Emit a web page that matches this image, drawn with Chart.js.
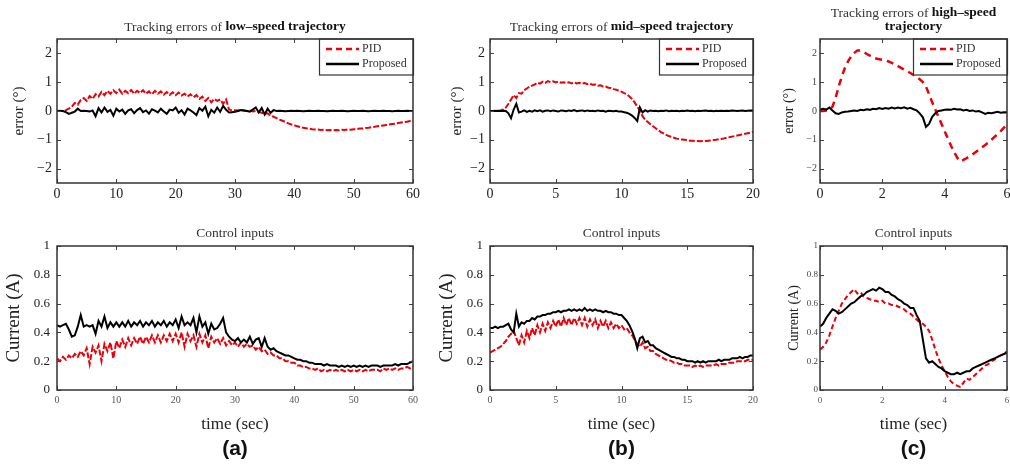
<!DOCTYPE html>
<html><head><meta charset="utf-8">
<script src="https://cdn.jsdelivr.net/npm/chart.js@4.4.1/dist/chart.umd.min.js"></script>
<style>
html,body{margin:0;padding:0;background:#fff;width:1010px;height:464px;overflow:hidden;}
canvas{position:absolute;}
</style></head><body>
<canvas id="a1"></canvas><canvas id="b1"></canvas><canvas id="c1"></canvas>
<canvas id="a2"></canvas><canvas id="b2"></canvas><canvas id="c2"></canvas>
<script>
// ---------- data ----------
const aTime = [0,0.5,1,1.5,2,2.5,3,3.5,4,4.5,5,5.5,6,6.5,7,7.5,8,8.5,9,9.5,10,10.5,11,11.5,12,12.5,13,13.5,14,14.5,15,15.5,16,16.5,17,17.5,18,18.5,19,19.5,20,20.5,21,21.5,22,22.5,23,23.5,24,24.5,25,25.5,26,26.5,27,27.5,28,28.5,29,29.5,30,30.5,31,31.5,32,32.5,33,33.5,34,34.5,35,35.5,36,36.5,37,37.5,38,38.5,39,39.5,40,40.5,41,41.5,42,42.5,43,43.5,44,44.5,45,45.5,46,46.5,47,47.5,48,48.5,49,49.5,50,50.5,51,51.5,52,52.5,53,53.5,54,54.5,55,55.5,56,56.5,57,57.5,58,58.5,59,59.5,60];
const aPidErr = [0,0.01,0,0.03,0.08,0.15,0.28,0.22,0.38,0.45,
 0.35,0.52,0.42,0.58,0.5,0.66,0.55,0.7,0.6,0.72,
 0.62,0.74,0.6,0.7,0.62,0.73,0.6,0.7,0.62,0.72,
 0.6,0.68,0.58,0.7,0.6,0.68,0.57,0.66,0.56,0.65,
 0.55,0.64,0.54,0.6,0.5,0.58,0.48,0.55,0.42,0.5,
 0.35,0.45,0.3,0.42,0.35,0.4,0.25,0.4,0.05,0.02,
 0.03,0.02,0.03,0.02,0,0.02,-0.02,0,-0.04,-0.06,
 -0.1,-0.08,-0.16,-0.2,-0.25,-0.3,-0.34,-0.38,-0.43,-0.47,
 -0.5,-0.53,-0.56,-0.58,-0.6,-0.61,-0.63,-0.64,-0.64,-0.66,
 -0.65,-0.67,-0.66,-0.67,-0.66,-0.67,-0.65,-0.66,-0.64,-0.65,
 -0.63,-0.63,-0.61,-0.61,-0.59,-0.58,-0.56,-0.55,-0.53,-0.52,
 -0.5,-0.49,-0.47,-0.45,-0.44,-0.42,-0.4,-0.39,-0.37,-0.35,
 -0.33];
const aPropErr = [0,0,0,-0.04,-0.1,-0.06,-0.02,0.08,0,0.01,
 0,-0.02,0.02,-0.18,0.1,-0.05,0.12,-0.03,0.04,-0.16,
 0.08,-0.02,0.05,-0.1,0.02,0.06,-0.08,0.03,0.1,-0.04,
 0.02,-0.09,0.06,0.01,-0.05,0.08,-0.02,-0.1,0.05,0.02,
 0.12,-0.06,0.03,-0.12,0.08,0.02,-0.05,-0.14,0.1,0.01,
 0.15,-0.18,0.04,-0.06,0.12,-0.03,0.18,0.04,-0.05,-0.04,
 -0.03,0,0.03,0.02,0,-0.02,0.05,0.12,-0.05,0.1,
 -0.12,0.08,-0.06,0.03,0,0.01,0,-0.01,0,0.01,
 0,0.01,0,-0.01,0,0.01,0,0,0.01,0,
 0,-0.01,0,0.01,0,0,0.01,0,-0.01,0,
 0.01,0,0,0.01,0,-0.01,0,0.01,0,0,
 0.01,0,0,-0.01,0,0.01,0,0,0.01,0,
 0];
const aPropCur = [0.45,0.44,0.45,0.46,0.42,0.37,0.38,0.44,0.52,0.44,
 0.45,0.44,0.45,0.39,0.48,0.44,0.51,0.43,0.47,0.44,
 0.47,0.44,0.47,0.44,0.48,0.44,0.47,0.45,0.48,0.44,
 0.47,0.45,0.48,0.44,0.47,0.45,0.48,0.44,0.47,0.45,
 0.49,0.43,0.51,0.45,0.47,0.45,0.5,0.4,0.51,0.44,
 0.47,0.39,0.46,0.42,0.43,0.46,0.5,0.4,0.37,0.35,
 0.34,0.36,0.33,0.35,0.33,0.37,0.32,0.35,0.36,0.3,
 0.36,0.3,0.28,0.29,0.27,0.26,0.25,0.24,0.24,0.23,
 0.22,0.21,0.21,0.2,0.2,0.19,0.19,0.18,0.18,0.18,
 0.17,0.18,0.17,0.17,0.17,0.16,0.17,0.16,0.17,0.16,
 0.17,0.16,0.17,0.16,0.17,0.16,0.17,0.17,0.17,0.16,
 0.17,0.17,0.17,0.17,0.18,0.17,0.18,0.18,0.18,0.19,
 0.2];
const aPidCur = [0.22,0.2,0.23,0.21,0.24,0.22,0.25,0.23,0.27,0.24,
 0.29,0.18,0.3,0.26,0.31,0.2,0.32,0.27,0.33,0.22,
 0.34,0.29,0.35,0.3,0.36,0.31,0.36,0.32,0.37,0.32,
 0.37,0.33,0.38,0.33,0.38,0.33,0.38,0.34,0.39,0.34,
 0.39,0.33,0.4,0.3,0.39,0.34,0.38,0.3,0.39,0.33,
 0.38,0.29,0.37,0.33,0.36,0.32,0.36,0.31,0.34,0.31,
 0.33,0.3,0.33,0.3,0.32,0.3,0.31,0.28,0.3,0.27,
 0.28,0.25,0.26,0.24,0.24,0.22,0.22,0.2,0.2,0.19,
 0.19,0.17,0.17,0.16,0.16,0.15,0.15,0.14,0.15,0.13,
 0.14,0.13,0.14,0.13,0.14,0.13,0.14,0.13,0.14,0.13,
 0.14,0.13,0.14,0.13,0.14,0.13,0.14,0.14,0.14,0.13,
 0.15,0.14,0.15,0.14,0.15,0.14,0.15,0.15,0.16,0.15,
 0.16];

const bTime = [0,0.2,0.4,0.6,0.8,1,1.2,1.4,1.6,1.8,2,2.2,2.4,2.6,2.8,3,3.2,3.4,3.6,3.8,4,4.2,4.4,4.6,4.8,5,5.2,5.4,5.6,5.8,6,6.2,6.4,6.6,6.8,7,7.2,7.4,7.6,7.8,8,8.2,8.4,8.6,8.8,9,9.2,9.4,9.6,9.8,10,10.2,10.4,10.6,10.8,11,11.2,11.4,11.6,11.8,12,12.2,12.4,12.6,12.8,13,13.2,13.4,13.6,13.8,14,14.2,14.4,14.6,14.8,15,15.2,15.4,15.6,15.8,16,16.2,16.4,16.6,16.8,17,17.2,17.4,17.6,17.8,18,18.2,18.4,18.6,18.8,19,19.2,19.4,19.6,19.8,20];
const bPidErr = [0,0,0.01,0,0.02,0.05,0.12,0.25,0.4,0.55,
 0.45,0.62,0.6,0.72,0.78,0.85,0.88,0.92,0.98,0.95,
 1.02,0.98,1.04,1,1.03,0.99,1.02,0.98,1,0.97,
 1,0.96,0.99,0.96,0.98,0.95,0.97,0.93,0.95,0.91,
 0.92,0.88,0.89,0.85,0.85,0.81,0.8,0.76,0.74,0.7,
 0.67,0.62,0.58,0.5,0.42,0.3,0.15,0,-0.18,-0.3,
 -0.38,-0.46,-0.53,-0.6,-0.67,-0.73,-0.78,-0.83,-0.87,-0.9,
 -0.93,-0.96,-0.98,-0.99,-1,-1.01,-1.03,-1.03,-1.04,-1.04,
 -1.05,-1.04,-1.04,-1.03,-1.02,-1.01,-1,-0.98,-0.97,-0.95,
 -0.93,-0.91,-0.89,-0.87,-0.85,-0.83,-0.81,-0.79,-0.77,-0.75,
 -0.73];
const bPropErr = [0,0,0,0.01,0,0.01,0,-0.08,-0.25,0.05,
 0.25,-0.05,-0.02,0.02,-0.03,0.01,-0.02,0.02,-0.01,0.02,
 -0.02,0.01,0.02,-0.01,0.02,0,-0.02,0.02,0.01,-0.01,
 0.02,0,0.03,-0.01,0.01,0.02,-0.01,0.02,0,0.01,
 -0.01,0.02,0,0.01,-0.02,0.01,0,-0.01,0.01,-0.02,
 -0.02,-0.04,-0.06,-0.1,-0.16,-0.24,-0.35,0.12,-0.05,0.03,
 -0.02,0.02,0,0.01,-0.01,0.01,0,0.02,-0.01,0.01,
 0,0.01,-0.01,0.01,0,0.02,0,0.01,-0.01,0.01,
 0,0.01,0.02,0,0.01,-0.01,0.01,0,0.01,0,
 0.01,0,0.02,0.01,0,0.01,0.02,0,0.01,0.02,
 0.02];
const bPropCur = [0.43,0.43,0.44,0.43,0.44,0.44,0.45,0.46,0.42,0.4,
 0.53,0.44,0.47,0.46,0.48,0.48,0.5,0.49,0.51,0.51,
 0.52,0.52,0.53,0.53,0.54,0.54,0.55,0.54,0.55,0.55,
 0.56,0.55,0.56,0.55,0.56,0.55,0.57,0.55,0.56,0.55,
 0.56,0.55,0.55,0.54,0.55,0.54,0.54,0.53,0.53,0.52,
 0.52,0.5,0.48,0.45,0.41,0.36,0.29,0.36,0.37,0.33,
 0.34,0.31,0.31,0.29,0.28,0.27,0.26,0.25,0.24,0.23,
 0.23,0.22,0.22,0.21,0.21,0.2,0.2,0.2,0.19,0.2,
 0.19,0.2,0.19,0.2,0.2,0.2,0.2,0.21,0.2,0.21,
 0.21,0.21,0.22,0.22,0.22,0.23,0.22,0.23,0.23,0.24,
 0.24];
const bPidCur = [0.26,0.27,0.28,0.29,0.3,0.32,0.34,0.37,0.39,0.41,
 0.36,0.31,0.38,0.33,0.41,0.36,0.43,0.38,0.45,0.4,
 0.46,0.41,0.47,0.43,0.48,0.44,0.49,0.44,0.5,0.45,
 0.5,0.45,0.5,0.46,0.5,0.45,0.5,0.44,0.49,0.45,
 0.49,0.43,0.48,0.44,0.48,0.43,0.47,0.43,0.46,0.43,
 0.45,0.42,0.43,0.4,0.38,0.35,0.32,0.3,0.33,0.29,
 0.3,0.27,0.27,0.25,0.24,0.23,0.22,0.21,0.21,0.2,
 0.19,0.19,0.18,0.18,0.17,0.17,0.17,0.16,0.17,0.16,
 0.17,0.16,0.17,0.17,0.17,0.17,0.18,0.17,0.18,0.18,
 0.18,0.19,0.19,0.19,0.2,0.2,0.2,0.2,0.21,0.21,
 0.21];

const cTime = [0,0.1,0.2,0.3,0.4,0.5,0.6,0.7,0.8,0.9,1,1.1,1.2,1.3,1.4,1.5,1.6,1.7,1.8,1.9,2,2.1,2.2,2.3,2.4,2.5,2.6,2.7,2.8,2.9,3,3.1,3.2,3.3,3.4,3.5,3.6,3.7,3.8,3.9,4,4.1,4.2,4.3,4.4,4.5,4.6,4.7,4.8,4.9,5,5.1,5.2,5.3,5.4,5.5,5.6,5.7,5.8,5.9,6];
const cPidErr = [0,0,0.02,0.05,0.15,0.45,0.85,1.2,1.5,1.72,
 1.9,2.02,2.1,2.1,2.05,1.98,1.92,1.86,1.82,1.8,
 1.78,1.76,1.72,1.67,1.62,1.56,1.5,1.44,1.38,1.32,
 1.25,1.18,1.1,1,0.85,0.58,0.3,0.05,-0.2,-0.45,
 -0.7,-0.95,-1.2,-1.42,-1.62,-1.75,-1.7,-1.64,-1.57,-1.5,
 -1.42,-1.34,-1.26,-1.18,-1.1,-1,-0.9,-0.8,-0.7,-0.58,
 -0.48];
const cPropErr = [0.05,0.08,0.05,0.12,0.02,-0.08,-0.1,-0.05,-0.03,-0.02,
 0,0.02,0,0.04,0.03,0.06,0.04,0.08,0.06,0.1,
 0.07,0.1,0.08,0.12,0.09,0.12,0.1,0.13,0.08,0.11,
 0.06,0.02,-0.08,-0.22,-0.55,-0.45,-0.2,-0.08,0,0.02,
 0.04,0.05,0.04,0.08,0.05,0.06,0.02,0.04,0,0.02,
 -0.02,0,-0.05,-0.1,-0.06,-0.08,-0.05,-0.03,-0.06,-0.04,
 -0.05];
const cPropCur = [0.44,0.46,0.5,0.53,0.56,0.55,0.53,0.54,0.56,0.58,
 0.6,0.61,0.63,0.65,0.66,0.68,0.69,0.7,0.69,0.71,
 0.7,0.68,0.68,0.66,0.65,0.63,0.62,0.6,0.59,0.57,
 0.57,0.52,0.48,0.35,0.22,0.19,0.2,0.18,0.16,0.15,
 0.13,0.12,0.11,0.11,0.12,0.11,0.12,0.13,0.13,0.15,
 0.16,0.17,0.18,0.19,0.2,0.21,0.22,0.23,0.24,0.25,
 0.26];
const cPidCur = [0.28,0.3,0.33,0.38,0.44,0.5,0.55,0.6,0.63,0.66,
 0.68,0.7,0.67,0.68,0.65,0.64,0.63,0.62,0.62,0.61,
 0.62,0.6,0.6,0.59,0.59,0.58,0.57,0.56,0.54,0.53,
 0.51,0.49,0.47,0.46,0.44,0.41,0.35,0.28,0.22,0.17,
 0.13,0.09,0.06,0.04,0.03,0.02,0.05,0.08,0.07,0.09,
 0.11,0.13,0.15,0.17,0.18,0.2,0.21,0.23,0.24,0.25,
 0.27];

// ---------- ticks ----------
const aXTicks = [0,10,20,30,40,50,60];
const bXTicks = [0,5,10,15,20];
const cXTicks = [0,2,4,6];
const errTicks = [-2,-1,0,1,2];
const errTickLabels = ['\u22122','\u22121','0','1','2'];
const curTicks = [0,0.2,0.4,0.6,0.8,1];
const curTickLabels = ['0','0.2','0.4','0.6','0.8','1'];
const seriesNames = ['PID','Proposed'];

// ---------- rendering ----------
const SERIF = '"Liberation Serif","Times New Roman",Times,serif';
const SANS = '"Liberation Sans",Arial,sans-serif';

const decor = {
  id: 'decor',
  afterDraw(chart, args, o) {
    const {ctx, chartArea: a} = chart;
    const xs = chart.scales.x, ys = chart.scales.y;
    ctx.save();
    ctx.setLineDash([]);
    ctx.strokeStyle = '#444'; ctx.lineWidth = 1;
    ctx.beginPath();
    xs.ticks.forEach(t => { const px = Math.round(xs.getPixelForValue(t.value)) + 0.5;
      ctx.moveTo(px, a.bottom); ctx.lineTo(px, a.bottom - 4);
      ctx.moveTo(px, a.top); ctx.lineTo(px, a.top + 4); });
    ys.ticks.forEach(t => { const py = Math.round(ys.getPixelForValue(t.value)) + 0.5;
      ctx.moveTo(a.left, py); ctx.lineTo(a.left + 4, py);
      ctx.moveTo(a.right, py); ctx.lineTo(a.right - 4, py); });
    ctx.stroke();
    if (o.legend) {
      const L = a.right - 94, T = a.top, B = a.top + 36;
      ctx.fillStyle = '#fff'; ctx.fillRect(L, T, a.right - L, B - T);
      ctx.strokeStyle = '#333'; ctx.lineWidth = 1.2; ctx.strokeRect(L + 0.5, T, a.right - L, B - T);
      chart.data.datasets.forEach((ds, i) => {
        const yy = T + 10 + i * 15;
        ctx.strokeStyle = ds.borderColor; ctx.lineWidth = 2.5;
        ctx.setLineDash(ds.borderDash && ds.borderDash.length ? [6, 4] : []);
        ctx.beginPath(); ctx.moveTo(L + 7, yy); ctx.lineTo(L + 40, yy); ctx.stroke();
        ctx.setLineDash([]);
        ctx.fillStyle = '#333'; ctx.font = '12px ' + SERIF; ctx.textBaseline = 'middle'; ctx.textAlign = 'left';
        ctx.fillText(ds.label, L + 43, yy);
      });
    }
    ctx.strokeStyle = '#333'; ctx.lineWidth = 1.5;
    ctx.strokeRect(a.left, a.top, a.right - a.left, a.bottom - a.top);
    const cx = (a.left + a.right) / 2;
    if (o.title) {
      o.title.lines.forEach((parts, li) => {
        let total = 0;
        parts.forEach(p => { ctx.font = (p[1] ? 'bold ' : '') + o.title.size + 'px ' + SERIF; total += ctx.measureText(p[0]).width; });
        let x = cx - total / 2;
        parts.forEach(p => {
          ctx.font = (p[1] ? 'bold ' : '') + o.title.size + 'px ' + SERIF;
          ctx.fillStyle = p[1] ? '#111' : '#333';
          ctx.textBaseline = 'middle'; ctx.textAlign = 'left';
          ctx.fillText(p[0], x, o.title.ys[li]);
          x += ctx.measureText(p[0]).width;
        });
      });
    }
    if (o.tag) {
      ctx.font = 'bold 21px ' + SANS; ctx.fillStyle = '#111';
      ctx.textAlign = 'center'; ctx.textBaseline = 'middle';
      ctx.fillText(o.tag.text, cx, o.tag.y);
    }
    ctx.restore();
  }
};

const panels = [
  {id:'a1', plot:[57,39,413,183], cl:10, ct:0, cb:212, pr:12, t:aTime, pid:aPidErr, prop:aPropErr,
   xMax:60, xTicks:aXTicks, kind:'err', yTitle:'error (\u00b0)', yTitleSize:15,
   xTickSize:14, xTickColor:'#222', xTickPad:3, yTickSize:14, yTickColor:'#222', yTickPad:5,
   pidDash:[6,2], pidW:2,
   title:{lines:[[['Tracking errors of ',0],['low\u2013speed trajectory',1]]], ys:[27], size:13.5}, legend:true},
  {id:'b1', plot:[490,39,753,183], cl:448, ct:0, cb:212, pr:12, t:bTime, pid:bPidErr, prop:bPropErr,
   xMax:20, xTicks:bXTicks, kind:'err', yTitle:'error (\u00b0)', yTitleSize:15,
   xTickSize:14, xTickColor:'#222', xTickPad:3, yTickSize:14, yTickColor:'#222', yTickPad:5,
   pidDash:[6,2], pidW:2,
   title:{lines:[[['Tracking errors of ',0],['mid\u2013speed trajectory',1]]], ys:[27], size:13.5}, legend:true},
  {id:'c1', plot:[820,39,1007,183], cl:781, ct:0, cb:212, pr:3, t:cTime, pid:cPidErr, prop:cPropErr,
   xMax:6, xTicks:cXTicks, kind:'err', yTitle:'error (\u00b0)', yTitleSize:14,
   xTickSize:14, xTickColor:'#222', xTickPad:3, yTickSize:10, yTickColor:'#444', yTickPad:3,
   pidDash:[7,5], pidW:2.5,
   title:{lines:[[['Tracking errors of ',0],['high\u2013speed',1]],[['trajectory',1]]], ys:[13,27], size:13.5}, legend:true},
  {id:'a2', plot:[57,246,413,390], cl:3, ct:200, cb:464, pr:12, t:aTime, pid:aPidCur, prop:aPropCur,
   xMax:60, xTicks:aXTicks, kind:'cur', yTitle:'Current (A)', yTitleSize:19,
   xTickSize:10, xTickColor:'#555', xTickPad:4, yTickSize:13, yTickColor:'#222', yTickPad:7,
   pidDash:[6,2], pidW:2,
   title:{lines:[[['Control inputs',0]]], ys:[33], size:13.5}, xTitle:true, tag:{text:'(a)', y:249}},
  {id:'b2', plot:[490,246,753,390], cl:436, ct:200, cb:464, pr:12, t:bTime, pid:bPidCur, prop:bPropCur,
   xMax:20, xTicks:bXTicks, kind:'cur', yTitle:'Current (A)', yTitleSize:19,
   xTickSize:10, xTickColor:'#555', xTickPad:4, yTickSize:13, yTickColor:'#222', yTickPad:7,
   pidDash:[6,2], pidW:2,
   title:{lines:[[['Control inputs',0]]], ys:[33], size:13.5}, xTitle:true, tag:{text:'(b)', y:249}},
  {id:'c2', plot:[820,246,1007,390], cl:786, ct:200, cb:464, pr:3, t:cTime, pid:cPidCur, prop:cPropCur,
   xMax:6, xTicks:cXTicks, kind:'cur', yTitle:'Current (A)', yTitleSize:14,
   xTickSize:9, xTickColor:'#555', xTickPad:5, yTickSize:9, yTickColor:'#444', yTickPad:2,
   pidDash:[5,3], pidW:2,
   title:{lines:[[['Control inputs',0]]], ys:[33], size:13.5}, xTitle:true, tag:{text:'(c)', y:249}}
];

panels.forEach(p => {
  const cv = document.getElementById(p.id);
  const W = p.plot[2] + p.pr - p.cl, H = p.cb - p.ct;
  cv.width = W; cv.height = H;
  cv.style.left = p.cl + 'px'; cv.style.top = p.ct + 'px';
  cv.style.width = W + 'px'; cv.style.height = H + 'px';
  const yW = p.plot[0] - p.cl, xH = p.cb - p.plot[3];
  const yT = p.kind === 'err' ? errTicks : curTicks;
  const yL = p.kind === 'err' ? errTickLabels : curTickLabels;
  const pts = arr => arr.map((v, i) => ({x: p.t[i], y: v}));
  new Chart(cv, {
    type: 'line',
    data: { datasets: [
      {label: seriesNames[0], data: pts(p.pid), borderColor: '#e8000b', borderWidth: p.pidW, borderDash: p.pidDash, pointRadius: 0, tension: 0, order: 2},
      {label: seriesNames[1], data: pts(p.prop), borderColor: '#000', borderWidth: 2, pointRadius: 0, tension: 0, order: 1}
    ]},
    options: {
      responsive: false, animation: false, devicePixelRatio: 1, events: [],
      layout: {padding: {left: 0, top: p.plot[1] - p.ct, right: p.pr, bottom: 0}},
      plugins: {legend: {display: false}, tooltip: {enabled: false},
        decor: {legend: !!p.legend, title: p.title, tag: p.tag ? {text: p.tag.text, y: p.tag.y} : null}},
      scales: {
        x: {type: 'linear', min: 0, max: p.xMax,
          grid: {display: false, drawTicks: false}, border: {display: false},
          afterBuildTicks: s => { s.ticks = p.xTicks.map(v => ({value: v})); },
          afterFit: s => { s.height = xH; s.paddingLeft = 0; s.paddingRight = 0; },
          ticks: {autoSkip: false, maxRotation: 0, padding: p.xTickPad, color: p.xTickColor,
            font: {family: SERIF, size: p.xTickSize}, callback: v => String(v)},
          title: {display: !!p.xTitle, text: 'time (sec)', color: '#222',
            font: {family: SERIF, size: 17}, padding: {top: 0, bottom: 29}}
        },
        y: {type: 'linear', min: p.kind === 'err' ? -2.5 : 0, max: p.kind === 'err' ? 2.5 : 1,
          grid: {display: false, drawTicks: false}, border: {display: false},
          afterBuildTicks: s => { s.ticks = yT.map(v => ({value: v})); },
          afterFit: s => { s.width = yW; s.paddingTop = 0; s.paddingBottom = 0; },
          ticks: {autoSkip: false, padding: p.yTickPad, color: p.yTickColor,
            font: {family: SERIF, size: p.yTickSize}, callback: (v, i) => yL[i]},
          title: {display: true, text: p.yTitle, color: '#222',
            font: {family: SERIF, size: p.yTitleSize}, padding: {top: 0, bottom: 0}}
        }
      }
    },
    plugins: [decor]
  });
});
</script>
</body></html>
